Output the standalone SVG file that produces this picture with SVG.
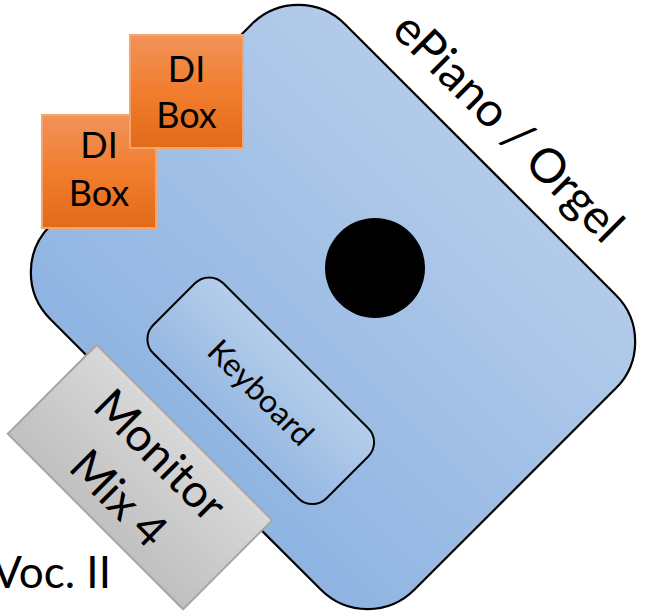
<svg xmlns="http://www.w3.org/2000/svg" width="652" height="611" viewBox="0 0 652 611">
  <defs>
    <linearGradient id="gBlue" x1="0" y1="0" x2="0" y2="1">
      <stop offset="0" stop-color="#b3cbea"/>
      <stop offset="1" stop-color="#8fb4e2"/>
    </linearGradient>
    <linearGradient id="gKey" x1="0" y1="0" x2="0" y2="1">
      <stop offset="0" stop-color="#b4cdea"/>
      <stop offset="1" stop-color="#96b8e3"/>
    </linearGradient>
    <linearGradient id="gOrange" x1="0" y1="0" x2="0" y2="1">
      <stop offset="0" stop-color="#f1935a"/>
      <stop offset="0.5" stop-color="#f17d2e"/>
      <stop offset="1" stop-color="#e26a19"/>
    </linearGradient>
    <linearGradient id="gGrey" x1="0" y1="0" x2="0" y2="1">
      <stop offset="0" stop-color="#d8d8d8"/>
      <stop offset="1" stop-color="#c0c0c0"/>
    </linearGradient>
    <style>
      .t { font-family: Lato, "Liberation Sans", sans-serif; fill: #000; }
      .di { fill: url(#gOrange); stroke: #f5a56c; stroke-width: 2; }
    </style>
  </defs>

  <g id="connectors"></g>

  <g id="epiano">
    <g transform="translate(333,307) rotate(45)">
      <rect x="-257.5" y="-208.5" width="515" height="417" rx="66" ry="66" fill="url(#gBlue)" stroke="#000" stroke-width="2.2"/>
      <text class="t" x="-3" y="-235" font-size="47.5" text-anchor="middle">ePiano / Orgel</text>
    </g>
  </g>

  <g id="speaker">
    <circle cx="375" cy="268" r="50" fill="#000"/>
  </g>

  <g id="keyboard">
    <g transform="translate(260.75,390.75) rotate(45)">
      <rect x="-122.5" y="-49.5" width="245" height="99" rx="20" ry="20" fill="url(#gKey)" stroke="#000" stroke-width="2"/>
      <text class="t" x="1.3" y="12.5" font-size="32" text-anchor="middle">Keyboard</text>
    </g>
  </g>

  <g id="dibox2">
    <rect class="di" x="42" y="115" width="114" height="113"/>
    <text class="t" x="99" y="158" font-size="36" text-anchor="middle">DI</text>
    <text class="t" x="99" y="206" font-size="36" text-anchor="middle">Box</text>
  </g>

  <g id="dibox1">
    <rect class="di" x="130" y="35" width="113" height="113"/>
    <text class="t" x="186.5" y="82" font-size="36" text-anchor="middle">DI</text>
    <text class="t" x="186.5" y="128" font-size="36" text-anchor="middle">Box</text>
  </g>

  <g id="monitor">
    <g transform="translate(140,477) rotate(45)">
      <rect x="-124" y="-63" width="248" height="126" fill="url(#gGrey)" stroke="#a6a6a6" stroke-width="2"/>
      <text class="t" x="-1" y="-14" font-size="46" text-anchor="middle">Monitor</text>
      <text class="t" x="0" y="46" font-size="46" text-anchor="middle">Mix 4</text>
    </g>
  </g>

  <g id="voc">
    <text class="t" x="111" y="588" font-size="44" text-anchor="end">Voc. II</text>
  </g>
</svg>
